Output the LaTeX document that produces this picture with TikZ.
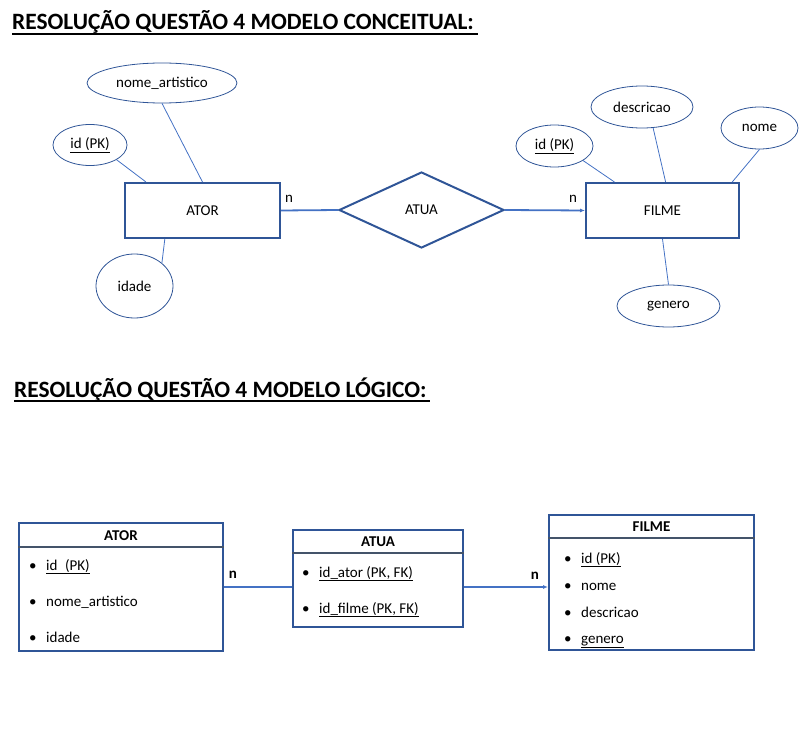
\documentclass[tikz,border=0pt]{standalone}
\usepackage{fontspec}
\setmainfont{Carlito}
\usetikzlibrary{shapes.geometric, arrows.meta, calc}

\definecolor{boxblue}{HTML}{2F5597}
\definecolor{linkblue}{HTML}{4472C4}
\definecolor{rulegray}{HTML}{44546A}
\newcommand{\bul}[1]{\makebox[17pt][l]{\textbullet}#1}

\begin{document}
\begin{tikzpicture}[x=1pt, y=-1pt,
    every node/.style={font=\fontsize{15}{17}\selectfont},
    >={Latex[length=5pt,width=4pt]}]
\useasboundingbox (0,0) rectangle (800,733);

% titles
\begin{scope}[every node/.style={font=\fontsize{23.4}{28}\selectfont\bfseries,inner sep=0,anchor=base west}]
    \node (T1) at (12,30)  {RESOLUÇÃO QUESTÃO 4 MODELO CONCEITUAL:};
    \node (T2) at (14,397) {RESOLUÇÃO QUESTÃO 4 MODELO LÓGICO:};
\end{scope}
\draw[line width=1.6pt] ([yshift=-4pt]T1.base west) -- ++(466,0);
\draw[line width=1.6pt] ([yshift=-4pt]T2.base west) -- ++(416,0);

% conceptual model
\begin{scope}[every node/.style={font=\fontsize{15}{17}\selectfont,draw=boxblue,line width=2pt,inner sep=0}]
    \node[rectangle,minimum width=155,minimum height=55] (ator)  at (202.5,210.5) {ATOR};
    \node[diamond,minimum width=165,minimum height=76,aspect=2.2] (atua) at (421.5,210) {ATUA};
    \node[rectangle,minimum width=153,minimum height=55] (filme) at (662.5,210.5) {FILME};
\end{scope}

\begin{scope}[every node/.style={font=\fontsize{15}{17}\selectfont,ellipse,draw=boxblue,line width=0.8pt,inner sep=0}]
    \node[minimum width=150,minimum height=40] (nomeart) at (162,83)  {nome\_artistico};
    \node[minimum width=74,minimum height=41]  (idA)     at (90,145)  {\underline{id (PK)}};
    \node[minimum width=77,minimum height=64]  (idade)   at (134.5,286) {idade};
    \node[minimum width=77,minimum height=42]  (idF)     at (554.5,146) {\underline{id (PK)}};
    \node[minimum width=102,minimum height=42] (descr)   at (642,107) {descricao};
    \node[minimum width=77,minimum height=42]  (nome)    at (759.5,128) {nome};
    \node[minimum width=103,minimum height=42] (genero)  at (668.5,306) {genero};
\end{scope}

\begin{scope}[every path/.style={draw=linkblue,line width=0.8pt}]
    \draw (nomeart.south) -- (ator.north);
    \draw (idA.-29) -- ($(ator.north west)!0.14!(ator.north east)$);
    \draw (idade.40) -- ($(ator.south west)!0.26!(ator.south east)$);
    \draw (idF.-27) -- ($(filme.north west)!0.19!(filme.north east)$);
    \draw (descr.-62) -- ($(filme.north west)!0.52!(filme.north east)$);
    \draw (nome.south) -- ($(filme.north west)!0.95!(filme.north east)$);
    \draw (genero.north) -- (filme.south);
\end{scope}

\begin{scope}[every path/.style={draw=linkblue,line width=1.8pt}]
    \draw (ator.east) -- (atua.west);
    \draw[->] (atua.east) -- (filme.west);
\end{scope}
\begin{scope}[every node/.style={font=\fontsize{15}{17}\selectfont,inner sep=0}]
    \node (c1) at (289,199) {n};
    \node (c2) at (573,199) {n};
\end{scope}

% logical model
\begin{scope}[every node/.style={draw=boxblue,line width=2pt,rectangle,inner sep=0}]
    \node[minimum width=204,minimum height=128] (tAtor)  at (121,587)   {};
    \node[minimum width=170,minimum height=97]  (tAtua)  at (378,578.5) {};
    \node[minimum width=205,minimum height=135] (tFilme) at (651.5,582.5) {};
\end{scope}

\begin{scope}[every path/.style={draw=rulegray,line width=2pt}]
    \draw (tAtor.west |- 0,547)  -- (tAtor.east |- 0,547);
    \draw (tAtua.west |- 0,553)  -- (tAtua.east |- 0,553);
    \draw (tFilme.west |- 0,538) -- (tFilme.east |- 0,538);
\end{scope}

\begin{scope}[every node/.style={font=\fontsize{15}{17}\selectfont\bfseries,inner sep=0}]
    \node (hAtor)  at (121,535.5)   {ATOR};
    \node (hAtua)  at (378,541.5)   {ATUA};
    \node (hFilme) at (651.5,526.5) {FILME};
\end{scope}

\begin{scope}[every node/.style={font=\fontsize{15}{17}\selectfont,inner sep=0,anchor=base west}]
    \node (a1) at (29,570) {\bul{\underline{id\enspace(PK)}}};
    \node (a2) at (29,606) {\bul{nome\_artistico}};
    \node (a3) at (29,642) {\bul{idade}};
    \node (r1) at (302,577) {\bul{\underline{id\_ator (PK, FK)}}};
    \node (r2) at (302,613) {\bul{\underline{id\_filme (PK, FK)}}};
    \node (f1) at (564,563) {\bul{\underline{id (PK)}}};
    \node (f2) at (564,590) {\bul{nome}};
    \node (f3) at (564,617) {\bul{descricao}};
    \node (f4) at (564,643) {\bul{\underline{genero}}};
\end{scope}

\begin{scope}[every path/.style={draw=linkblue,line width=1.8pt}]
    \draw (tAtor.east |- 0,587) -- (tAtua.west |- 0,587);
    \draw[->] (tAtua.east |- 0,587) -- (tFilme.west |- 0,587);
\end{scope}
\begin{scope}[every node/.style={font=\fontsize{15}{17}\selectfont\bfseries,inner sep=0}]
    \node (n1) at (233,575) {n};
    \node (n2) at (535,576) {n};
\end{scope}
\end{tikzpicture}
\end{document}
